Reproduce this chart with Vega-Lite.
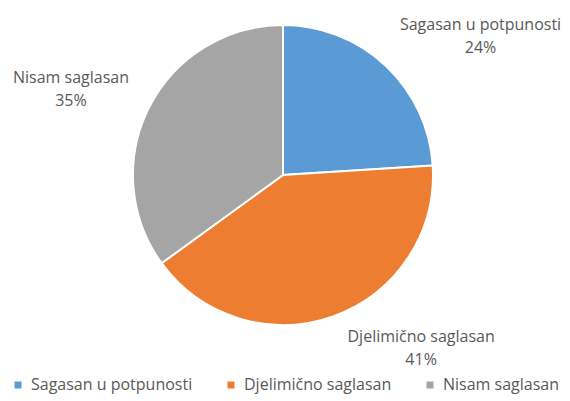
{
  "$schema": "https://vega.github.io/schema/vega-lite/v6.json",
  "width": 566,
  "height": 350,
  "padding": {"left": 0, "top": 0, "right": 0, "bottom": 10},
  "background": "white",
  "config": {"view": {"stroke": null}, "font": "Open Sans"},
  "data": {
    "values": [
      {"cat": "Sagasan u potpunosti", "pct": 24},
      {"cat": "Djelimično saglasan", "pct": 41},
      {"cat": "Nisam saglasan", "pct": 35}
    ]
  },
  "transform": [
    {"stack": "pct", "groupby": [], "as": ["s0", "s1"]},
    {"calculate": "(datum.s0 + datum.s1) / 2", "as": "mid"},
    {"calculate": "datum.cat + '\\n' + datum.pct + '%'", "as": "label"}
  ],
  "layer": [
    {
      "mark": {"type": "arc", "outerRadius": 150, "stroke": "white", "strokeWidth": 2},
      "encoding": {
        "theta": {"field": "s0", "type": "quantitative", "scale": {"domain": [0, 100]}},
        "theta2": {"field": "s1"},
        "color": {
          "field": "cat",
          "type": "nominal",
          "sort": null,
          "scale": {
            "domain": ["Sagasan u potpunosti", "Djelimično saglasan", "Nisam saglasan"],
            "range": ["#5B9BD5", "#ED7D31", "#A5A5A5"]
          },
          "legend": {
            "title": null,
            "orient": "none",
            "legendX": 10,
            "legendY": 377,
            "direction": "horizontal",
            "symbolType": "square",
            "symbolSize": 49,
            "symbolStrokeWidth": 0,
            "labelFontSize": 16,
            "labelColor": "#595959",
            "labelFont": "Open Sans",
            "labelLimit": 400,
            "labelOffset": 5,
            "columnPadding": 30
          }
        }
      }
    },
    {
      "transform": [{"filter": "datum.cat == 'Sagasan u potpunosti'"}],
      "mark": {"type": "text", "radius": 236, "dx": 36, "dy": 22, "lineBreak": "\n", "lineHeight": 23, "fontSize": 16, "color": "#595959", "align": "center", "baseline": "middle"},
      "encoding": {"theta": {"field": "mid", "type": "quantitative"}, "text": {"field": "label"}}
    },
    {
      "transform": [{"filter": "datum.cat == 'Djelimično saglasan'"}],
      "mark": {"type": "text", "radius": 210, "dx": 67, "dy": -36, "lineBreak": "\n", "lineHeight": 23, "fontSize": 16, "color": "#595959", "align": "center", "baseline": "middle"},
      "encoding": {"theta": {"field": "mid", "type": "quantitative"}, "text": {"field": "label"}}
    },
    {
      "transform": [{"filter": "datum.cat == 'Nisam saglasan'"}],
      "mark": {"type": "text", "radius": 229, "dx": -8, "dy": 7, "lineBreak": "\n", "lineHeight": 23, "fontSize": 16, "color": "#595959", "align": "center", "baseline": "middle"},
      "encoding": {"theta": {"field": "mid", "type": "quantitative"}, "text": {"field": "label"}}
    }
  ]
}
